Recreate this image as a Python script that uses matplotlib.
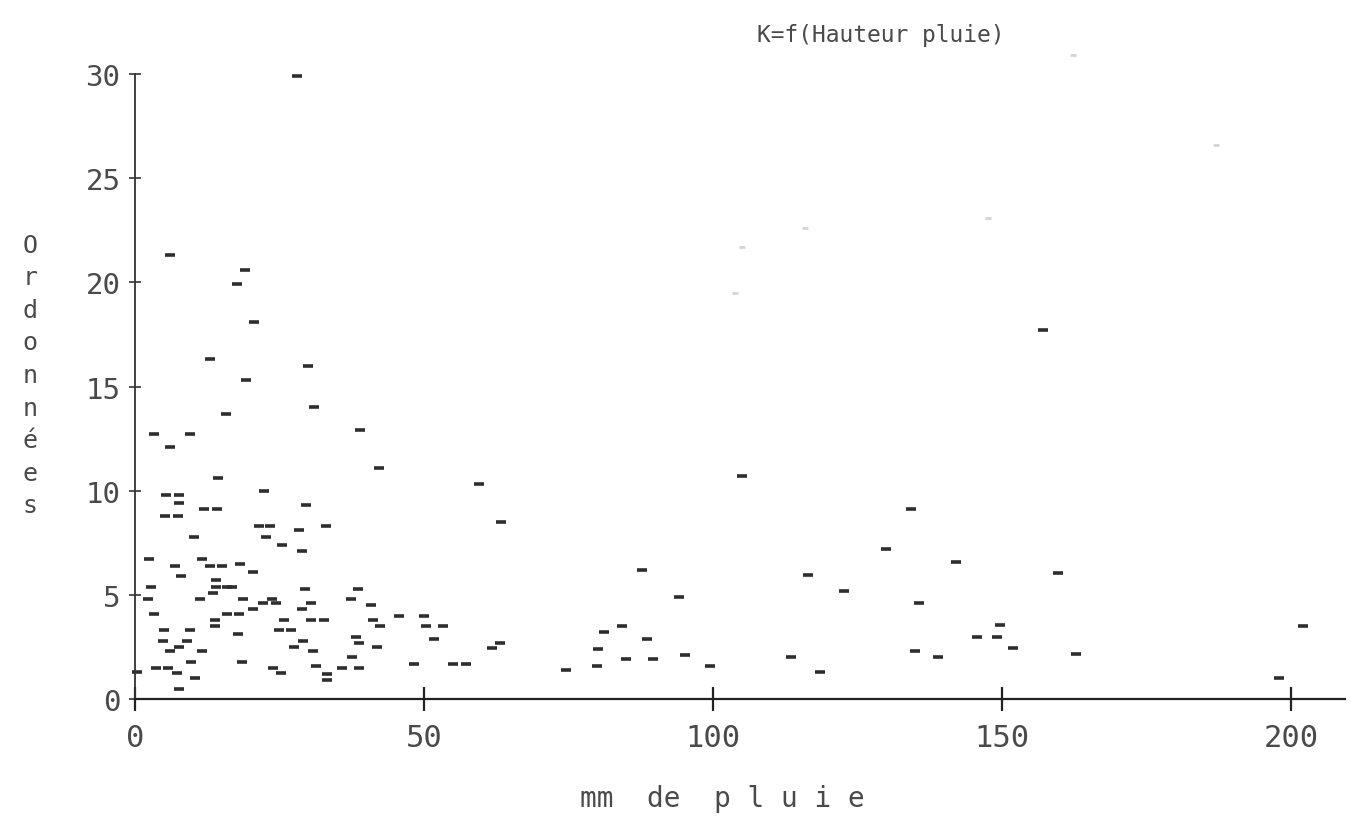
import matplotlib.pyplot as plt

# points (mm de pluie, K)
pluie = [28, 6, 19, 17.7, 20.6, 13.0, 29.9, 19.2,
         15.7, 31.0, 3.3, 9.5, 6.1, 38.9, 42.2, 14.4, 22.3, 5.4, 7.6, 7.6,
         5.2, 7.4, 11.9, 14.2, 29.6, 21.5, 23.4, 33.0, 22.7, 28.4, 25.4, 28.9,
         10.2, 2.4, 6.9, 11.6, 13.0, 15.1, 18.2, 20.4, 8.0, 14.0, 14.0, 13.5,
         15.9, 16.8, 2.8, 2.2, 29.4, 38.6, 11.2, 18.7, 23.7, 24.4, 22.1, 20.4,
         28.9, 30.4, 37.4, 40.8, 3.3, 15.9, 18.0, 13.8, 13.8, 25.8, 30.4, 32.7,
         41.2, 42.4, 45.7, 50.0, 50.3, 5.0, 9.5, 24.9, 27.0, 17.8, 38.2, 4.8,
         9.0, 29.1, 38.8, 27.5, 41.9, 7.6, 6.1, 11.6, 30.8, 37.5, 9.7, 18.5,
         31.3, 48.3, 3.6, 5.7, 23.9, 35.8, 38.8, 7.3, 25.3, 33.2, 10.4, 33.2,
         7.6, 0.3,
         53.3, 51.7, 61.8, 63.1, 55.0, 57.3, 74.6, 59.5, 63.3, 87.7, 94.1, 84.3,
         81.1, 88.6, 80.1, 79.9, 84.9, 89.6, 95.2, 99.5,
         105.0, 134.3, 129.9, 142.0, 116.4, 122.7, 135.6, 149.7, 145.7, 149.1,
         151.9, 135.0, 138.9, 113.5, 118.5,
         159.7, 162.8, 202.1, 197.9, 157.0]
K = [29.9, 21.3, 20.6, 19.9, 18.1, 16.3, 16.0, 15.3,
     13.7, 14.0, 12.7, 12.7, 12.1, 12.9, 11.1, 10.6, 10.0, 9.8, 9.8, 9.4,
     8.8, 8.8, 9.1, 9.1, 9.3, 8.3, 8.3, 8.3, 7.8, 8.1, 7.4, 7.1,
     7.8, 6.7, 6.4, 6.7, 6.4, 6.4, 6.5, 6.1, 5.9, 5.7, 5.4, 5.1,
     5.4, 5.4, 5.4, 4.8, 5.3, 5.3, 4.8, 4.8, 4.8, 4.6, 4.6, 4.3,
     4.3, 4.6, 4.8, 4.5, 4.1, 4.1, 4.1, 3.8, 3.5, 3.8, 3.8, 3.8,
     3.8, 3.5, 4.0, 4.0, 3.5, 3.3, 3.3, 3.3, 3.3, 3.1, 3.0, 2.8,
     2.8, 2.8, 2.7, 2.5, 2.5, 2.5, 2.3, 2.3, 2.3, 2.0, 1.8, 1.8,
     1.6, 1.7, 1.5, 1.5, 1.5, 1.5, 1.5, 1.25, 1.25, 1.2, 1.0, 0.9,
     0.5, 1.3,
     3.5, 2.9, 2.45, 2.7, 1.7, 1.7, 1.4, 10.3, 8.5, 6.2, 4.9, 3.5,
     3.2, 2.9, 2.4, 1.6, 1.9, 1.9, 2.1, 1.6,
     10.7, 9.1, 7.2, 6.6, 5.95, 5.2, 4.6, 3.55, 3.0, 3.0,
     2.45, 2.3, 2.0, 2.0, 1.3,
     6.05, 2.15, 3.5, 1.0, 17.7]

# points à peine imprimés (pâles)
pluie_pale = [162.3, 186.9, 147.6, 115.9, 105.0, 103.8]
K_pale = [30.9, 26.6, 23.1, 22.6, 21.7, 19.5]

x_ticks = [0, 50, 100, 150, 200]
x_labels = ["0", "50", "100", "150", "200"]
y_ticks = [0, 5, 10, 15, 20, 25, 30]
y_labels = ["0", "5", "10", "15", "20", "25", "30"]

police = "DejaVu Sans Mono"
gris = "#4a4a4a"

fig = plt.figure(figsize=(13.51, 8.20), dpi=100)
ax = fig.add_axes([0.0999, 0.1463, 0.8957, 0.7622])

ax.plot(pluie, K, ls="none", marker="_", ms=6.5, mew=2.6, color="#2e2e2e", clip_on=False)
ax.plot(pluie_pale, K_pale, ls="none", marker="_", ms=5, mew=2, color="#d4d4d4", clip_on=False)

ax.set_xlim(0, 209.3)
ax.set_ylim(0, 30)

for cote in ["top", "right"]:
    ax.spines[cote].set_visible(False)
ax.spines["left"].set_color("#333333")
ax.spines["bottom"].set_color("#222222")
ax.spines["left"].set_linewidth(1.3)
ax.spines["bottom"].set_linewidth(1.6)

ax.set_xticks(x_ticks)
ax.set_xticklabels(x_labels, fontfamily=police, fontsize=22, color=gris)
ax.set_yticks(y_ticks)
ax.set_yticklabels(y_labels, fontfamily=police, fontsize=21, color=gris)
ax.tick_params(axis="x", direction="inout", length=17, width=1.6, pad=9, colors="#222222")
ax.tick_params(axis="y", direction="inout", length=9, width=1.2, pad=6, colors="#333333")
for lab in ax.get_xticklabels() + ax.get_yticklabels():
    lab.set_color(gris)

fig.text(0.652, 0.957, "K=f(Hauteur pluie)", fontfamily=police, fontsize=16.5,
         color=gris, ha="center", va="center")
fig.text(0.535, 0.025, "mm  de  p l u i e", fontfamily=police, fontsize=20,
         color=gris, ha="center", va="center")
fig.text(0.022, 0.5415, "\n".join("Ordonnées"), fontfamily=police, fontsize=18,
         color=gris, ha="center", va="center", linespacing=1.45)

fig.savefig("out.png", dpi=100, facecolor="white")
